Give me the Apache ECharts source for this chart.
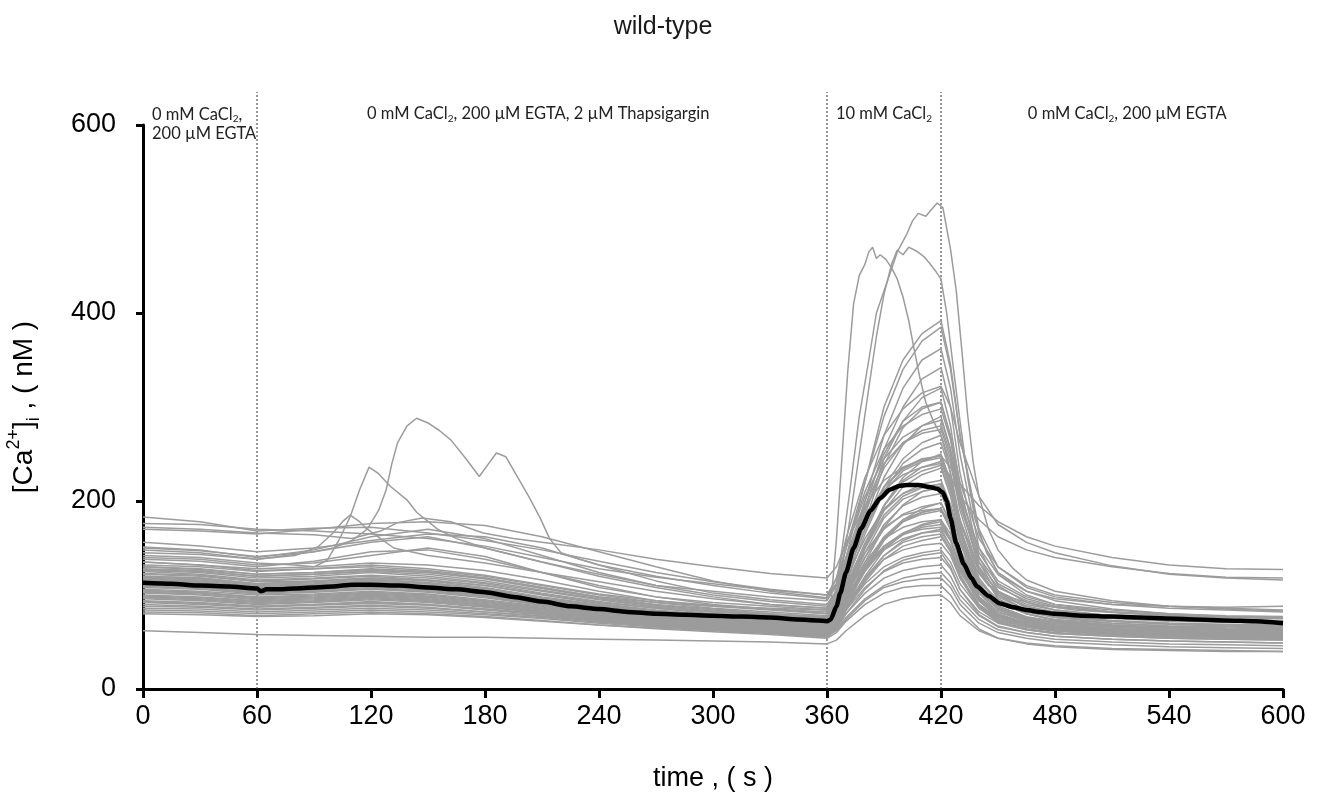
<!DOCTYPE html>
<html>
<head>
<meta charset="utf-8">
<script src="https://cdn.jsdelivr.net/npm/echarts@6/dist/echarts.min.js"></script>
<style>
html,body{margin:0;padding:0;background:#ffffff;}
#chart{width:1326px;height:801px;}
</style>
</head>
<body>
<div id="chart"></div>
<script>
// ---------------- DATA ----------------
// shared sampling times (s) for the individual cell traces
const TIME = [0,30,60,90,120,150,180,210,240,270,300,330,360,365,370,380,390,400,410,420,425,430,440,450,465,480,510,540,570,600];

// individual cells, [Ca2+]i in nM at TIME
const cell01 = [183,178,168,171,172,166,158,148,136,124,114,106,100,118,150,205,245,268,280,286,255,205,150,122,104,96,90,88,87,88];
const cell02 = [176,175,170,168,165,160,152,140,128,119,112,105,100,112,140,185,212,228,236,240,226,205,180,162,148,140,130,123,119,118];
const cell03 = [170,168,165,170,176,178,174,162,146,130,115,104,97,118,160,225,270,298,315,322,300,262,205,175,156,145,131,122,118,116];
const cell04 = [156,152,146,150,158,165,162,150,132,115,102,95,90,105,140,200,250,285,300,305,270,220,160,130,110,100,92,88,86,84];
const cell05 = [151,148,140,148,162,170,160,142,124,110,104,98,94,110,150,220,290,340,370,385,340,270,170,130,108,98,90,86,84,82];
const cell06 = [145,143,138,146,156,162,150,135,122,110,100,93,88,105,135,190,235,262,275,280,250,200,140,112,96,88,82,79,77,76];
const cell07 = [140,138,132,134,142,150,141,124,108,98,92,88,84,100,130,180,215,235,245,248,220,180,128,104,90,84,78,76,74,73];
const cell08 = [135,132,128,130,134,132,126,116,104,94,88,84,80,95,125,175,225,260,280,290,255,200,130,102,88,80,75,72,71,70];
const cell09 = [132,130,125,128,130,126,120,110,100,92,86,82,78,92,118,160,192,208,215,218,195,160,115,95,84,78,73,70,68,67];
const cell10 = [130,127,122,124,128,125,118,108,98,90,85,80,76,90,120,170,215,245,262,270,240,190,125,98,84,77,72,69,67,66];
const cell11 = [128,126,120,122,125,122,115,105,96,88,83,79,75,86,108,145,172,185,190,192,175,148,110,92,82,76,72,70,69,68];
const cell12 = [126,124,118,120,124,120,113,104,95,87,82,78,74,88,118,170,210,232,242,246,215,170,115,92,80,74,70,67,66,65];
const cell13 = [125,122,116,118,121,118,112,102,93,86,80,76,72,84,110,155,190,208,218,222,196,158,110,88,77,72,68,66,64,63];
const cell14 = [123,121,115,117,120,116,110,100,91,84,79,75,71,86,120,185,245,285,310,320,280,215,135,100,84,76,70,67,65,64];
const cell15 = [122,120,114,115,118,115,108,98,90,83,78,74,70,80,100,135,160,172,178,180,165,138,102,86,76,71,67,65,63,62];
const cell16 = [120,118,112,114,117,113,106,96,88,82,77,73,69,82,112,165,210,240,255,262,230,180,118,92,80,73,68,65,63,62];
const cell17 = [118,116,110,112,115,112,105,95,87,81,76,72,68,78,98,130,152,165,170,172,158,130,98,82,73,68,64,62,60,60];
const cell18 = [117,115,109,111,113,110,104,94,86,80,75,71,67,80,108,155,195,220,232,238,210,165,112,88,76,70,66,63,61,60];
const cell19 = [115,113,108,110,112,109,102,93,85,79,74,70,66,76,96,128,148,160,166,168,152,125,94,79,71,66,62,60,58,58];
const cell20 = [114,112,106,108,111,108,101,92,84,78,73,69,65,78,106,150,185,205,214,218,195,155,106,84,73,68,64,61,59,58];
const cell21 = [112,110,105,107,110,106,100,91,83,77,72,68,64,72,90,118,138,148,153,155,142,118,90,76,68,64,60,58,57,56];
const cell22 = [110,108,103,105,108,105,98,90,82,76,72,68,64,76,104,150,190,215,228,235,205,160,108,85,74,68,64,62,60,60];
const cell23 = [108,106,101,103,106,103,97,89,81,75,71,67,63,72,92,125,150,164,172,175,158,128,95,80,70,65,61,59,58,57];
const cell24 = [106,104,100,101,104,101,95,88,80,74,70,66,62,70,86,112,130,140,145,148,135,112,86,73,66,62,58,56,55,54];
const cell25 = [105,103,98,100,103,100,94,87,80,74,70,66,62,74,100,145,182,202,210,214,188,148,102,82,72,67,63,61,60,59];
const cell26 = [103,101,96,98,101,98,92,85,78,72,68,64,60,68,84,108,125,134,138,140,128,106,82,70,63,59,56,54,53,52];
const cell27 = [100,98,94,96,99,96,90,84,77,72,68,64,60,72,98,140,175,195,204,208,182,142,98,79,70,65,61,59,58,57];
const cell28 = [98,96,92,94,97,94,88,82,76,70,66,62,58,65,80,102,118,126,130,132,120,100,78,66,60,56,53,51,50,49];
const cell29 = [96,94,90,92,95,92,87,81,75,70,66,62,58,70,94,132,162,180,188,192,170,134,94,76,67,62,58,56,55,54];
const cell30 = [94,92,88,90,93,90,85,80,74,69,65,61,57,63,76,96,110,118,122,124,113,95,74,63,57,53,50,48,47,46];
const cell31 = [92,90,87,89,91,89,84,79,73,68,64,60,56,68,92,135,172,196,210,216,188,145,98,78,68,63,60,58,57,56];
const cell32 = [90,88,85,87,89,87,82,78,72,67,63,60,56,62,74,94,108,114,117,118,108,90,70,60,54,50,47,45,44,43];
const cell33 = [88,87,84,86,88,86,82,77,72,68,65,62,58,67,86,118,142,156,162,165,148,120,88,74,66,62,59,57,56,55];
const cell34 = [86,85,82,84,86,84,80,76,71,67,64,61,57,64,80,106,126,137,142,145,130,106,79,67,60,56,53,51,50,49];
const cell35 = [84,83,80,82,84,82,79,75,70,66,63,60,56,66,88,126,158,178,188,192,170,135,94,76,67,62,59,57,56,55];
const cell36 = [82,81,78,80,82,80,77,73,68,64,61,58,54,60,72,90,102,108,110,110,100,84,64,54,48,45,42,41,40,40];
const cell37 = [80,79,77,78,80,79,76,72,68,65,62,59,55,64,84,116,142,158,166,170,152,122,88,72,64,60,57,55,54,53];
const cell38 = [62,60,58,57,56,55,55,54,53,52,51,50,48,52,62,78,90,96,99,100,92,78,62,54,49,46,43,42,41,40];
const cell39 = [138,136,130,136,146,148,138,124,110,98,90,85,80,98,140,220,300,350,378,392,345,270,165,122,100,90,82,78,76,75];
const cell40 = [127,125,120,122,126,124,117,107,97,89,84,80,76,92,128,200,270,320,350,362,320,250,150,110,92,84,78,75,73,72];
const cell41 = [116,114,108,110,114,112,105,96,88,82,77,73,69,85,122,192,255,300,330,342,300,230,140,104,86,78,72,69,67,66];
const cell42 = [109,107,102,104,107,104,98,90,82,76,72,68,64,78,112,178,238,278,298,305,268,205,128,96,80,73,68,65,63,62];
const cell43 = [102,100,95,97,100,97,91,85,78,72,68,65,61,72,100,150,195,225,242,250,220,172,112,86,74,68,64,62,61,60];
const cell44 = [97,95,91,93,96,93,88,82,76,71,67,63,59,68,90,128,160,180,192,198,176,140,98,79,70,65,62,60,59,58];
const cell45 = [93,91,88,90,92,90,85,80,74,69,66,62,58,66,86,120,148,165,175,180,160,128,90,74,66,62,59,57,56,55];
const cell46 = [119,117,111,113,116,113,107,97,89,83,78,74,70,80,102,140,170,186,194,198,178,145,104,85,75,70,66,64,63,62];
const cell47 = [111,109,104,106,109,106,99,91,83,77,73,69,65,74,94,126,152,166,174,178,160,130,95,79,70,66,62,60,59,58];
const cell48 = [104,102,97,99,102,99,93,86,79,73,69,65,61,70,92,130,160,178,186,190,170,136,96,78,69,64,61,59,58,57];
const cell49 = [99,97,93,95,98,95,89,83,77,71,67,63,59,66,84,114,138,152,158,162,146,118,86,71,63,59,56,54,53,52];
const cell50 = [113,111,106,108,112,110,103,94,86,80,75,71,67,79,105,152,195,222,236,242,214,168,112,88,76,70,66,64,62,61];

// cells with their own sampling ([time s, nM])
const spikeHigh = [[0,130],[30,128],[60,122],[90,124],[120,127],[150,124],[180,118],[210,108],[240,98],[270,92],[300,88],[330,86],[360,84],[364,100],[368,150],[372,210],[377,290],[382,350],[386,400],[392,435],[397,465],[402,484],[405,498],[408,506],[412,503],[415,510],[418,517],[421,512],[425,468],[428,424],[431,360],[434,292],[437,240],[440,205],[445,170],[450,148],[458,128],[465,116],[480,104],[510,94],[540,88],[570,85],[600,83]];
const spikeFlat = [[0,120],[30,118],[60,112],[90,115],[120,118],[150,116],[180,110],[210,101],[240,92],[270,86],[300,82],[330,79],[360,77],[364,92],[368,130],[372,180],[377,250],[382,320],[386,375],[390,420],[394,452],[397,467],[400,462],[403,470],[407,466],[411,460],[414,453],[417,445],[420,436],[423,400],[426,350],[430,285],[434,225],[438,180],[444,145],[450,124],[465,104],[480,94],[510,85],[540,80],[570,77],[600,76]];
const spikeEarly = [[0,135],[30,132],[60,126],[90,128],[120,132],[150,128],[180,121],[210,111],[240,101],[270,94],[300,89],[330,85],[360,82],[362,90],[365,160],[368,250],[371,340],[374,410],[377,440],[380,452],[382,465],[384,470],[386,458],[388,462],[391,457],[394,448],[397,436],[400,417],[403,392],[406,360],[409,330],[412,305],[416,285],[420,270],[424,240],[428,195],[432,160],[438,128],[445,110],[455,98],[470,90],[490,84],[520,80],[560,77],[600,75]];
const tgPeak1 = [[0,142],[30,140],[60,134],[80,132],[90,130],[97,137],[103,158],[109,183],[114,212],[119,236],[124,229],[130,216],[139,201],[144,188],[155,170],[165,160],[180,150],[200,140],[220,130],[240,120],[270,108],[300,98],[330,90],[360,86],[365,102],[370,135],[380,195],[390,240],[400,262],[410,272],[420,276],[425,245],[430,195],[440,135],[450,108],[465,94],[480,87],[510,82],[540,79],[570,77],[600,76]];
const tgPeak2 = [[0,150],[30,147],[60,141],[90,146],[100,150],[110,158],[118,170],[124,190],[128,212],[131,240],[134,262],[139,280],[144,288],[150,283],[156,275],[162,265],[170,245],[177,226],[182,240],[186,251],[191,247],[197,226],[203,205],[209,182],[214,160],[220,145],[230,138],[240,132],[270,120],[300,110],[330,102],[360,96],[365,112],[370,150],[380,210],[390,255],[400,280],[410,292],[420,298],[425,265],[430,210],[440,145],[450,115],[465,98],[480,90],[510,84],[540,80],[570,78],[600,77]];
const tgPeak3 = [[0,148],[30,145],[60,138],[80,142],[92,151],[100,166],[105,178],[109,185],[114,178],[118,170],[125,160],[132,150],[150,142],[180,134],[210,124],[240,114],[270,104],[300,96],[330,90],[360,86],[365,98],[370,128],[380,178],[390,215],[400,234],[410,244],[420,248],[425,222],[430,178],[440,124],[450,100],[465,88],[480,82],[510,77],[540,74],[570,72],[600,71]];
const tgPlateau = [[0,172],[30,170],[60,166],[90,164],[110,160],[125,168],[134,177],[147,182],[162,178],[179,166],[195,160],[214,155],[240,148],[270,138],[300,130],[330,123],[360,118],[365,130],[370,155],[380,195],[390,222],[400,236],[410,244],[420,248],[425,236],[430,218],[440,195],[450,178],[465,162],[480,152],[510,140],[540,132],[570,128],[600,127]];

// mean trace
const MEAN_T = [0,15,30,45,60,62,65,70,80,90,100,110,120,135,150,165,180,195,210,225,240,255,270,285,300,315,330,345,355,360,362,365,367,370,374,378,383,388,393,398,402,408,414,418,421,423,425,428,432,436,439,445,451,458,465,472,480,495,510,525,540,555,570,585,600];
const MEAN_V = [113,112,110,109,107,104,106,106,107,108,109,111,111,110,108,106,103,98,93,88,85,82,80,79,78,77,76,74,73,72,74,88,102,124,150,171,190,203,212,216,217,217,215,213,209,200,182,155,133,118,109,99,91,87,84,82,80,78,77,76,75,74,73,72,70];

// solution changes (s) and labels
const PHASE_CHANGES = [60, 360, 420];
const PHASE_LABELS = [
  {at: 0,   text: '0 mM CaCl{s|2},\n200 µM EGTA', align: 'left'},
  {at: 208, text: '0 mM CaCl{s|2}, 200 µM EGTA, 2 µM Thapsigargin', align: 'center'},
  {at: 390, text: '10 mM CaCl{s|2}', align: 'center'},
  {at: 518, text: '0 mM CaCl{s|2}, 200 µM EGTA', align: 'center'}
];

// ---------------- CHART ----------------
const FONT = '"Liberation Sans", Arial, sans-serif';
const NOTE_FONT = 'Lato, "Open Sans", sans-serif';
const GRAY = '#9c9c9c';

const gridCells = [cell01,cell02,cell03,cell04,cell05,cell06,cell07,cell08,cell09,cell10,
  cell11,cell12,cell13,cell14,cell15,cell16,cell17,cell18,cell19,cell20,
  cell21,cell22,cell23,cell24,cell25,cell26,cell27,cell28,cell29,cell30,
  cell31,cell32,cell33,cell34,cell35,cell36,cell37,cell38,cell39,cell40,
  cell41,cell42,cell43,cell44,cell45,cell46,cell47,cell48,cell49,cell50];
const pairCells = [spikeHigh, spikeFlat, spikeEarly, tgPeak1, tgPeak2, tgPeak3, tgPlateau];

const series = [];
function graySeries(data) {
  return {type: 'line', data: data, symbol: 'none', silent: true, z: 2,
    lineStyle: {color: GRAY, width: 1.5}};
}
gridCells.forEach(function (vals) {
  series.push(graySeries(TIME.map(function (t, i) { return [t, vals[i]]; })));
});
pairCells.forEach(function (d) { series.push(graySeries(d)); });
series.push({type: 'line', data: MEAN_T.map(function (t, i) { return [t, MEAN_V[i]]; }),
  symbol: 'none', silent: true, z: 5, smooth: 0.2, smoothMonotone: 'x',
  lineStyle: {color: '#000000', width: 4.5}});

const chart = echarts.init(document.getElementById('chart'), null, {renderer: 'canvas'});
const option = {
  animation: false,
  backgroundColor: '#ffffff',
  textStyle: {fontFamily: FONT},
  title: {
    text: 'wild-type', left: 'center', top: 10,
    textStyle: {fontFamily: FONT, fontSize: 25, fontWeight: 'normal', color: '#1a1a1a'}
  },
  grid: {left: 143, right: 43, top: 125, bottom: 112, containLabel: false, outerBoundsMode: 'none'},
  xAxis: {
    type: 'value', min: 0, max: 600, interval: 60,
    name: 'time , ( s )', nameLocation: 'middle', nameGap: 76,
    nameTextStyle: {fontFamily: FONT, fontSize: 27, color: '#000'},
    axisLine: {onZero: false, lineStyle: {color: '#000', width: 3}},
    axisTick: {show: true, inside: false, length: 9, lineStyle: {color: '#000', width: 3}},
    axisLabel: {fontFamily: FONT, fontSize: 27, color: '#000', margin: 14, showMinLabel: true, showMaxLabel: true},
    splitLine: {show: false}
  },
  yAxis: {
    type: 'value', min: 0, max: 600, interval: 200,
    name: '[Ca{sup|2+}]{sub|i} , ( nM )', nameLocation: 'middle', nameRotate: 90, nameGap: 100,
    nameTextStyle: {fontFamily: FONT, fontSize: 28, color: '#000', lineHeight: 38,
      rich: {
        sup: {fontFamily: FONT, fontSize: 18, lineHeight: 18, verticalAlign: 'top', color: '#000'},
        sub: {fontFamily: FONT, fontSize: 18, lineHeight: 18, verticalAlign: 'bottom', color: '#000'}
      }},
    axisLine: {onZero: false, lineStyle: {color: '#000', width: 3}},
    axisTick: {show: true, inside: false, length: 7, lineStyle: {color: '#000', width: 3}},
    axisLabel: {fontFamily: FONT, fontSize: 27, color: '#000', margin: 27, showMinLabel: true, showMaxLabel: true},
    splitLine: {show: false}
  },
  series: series
};
chart.setOption(option);

// reference lines and solution labels placed through the axes' scales
const px = function (t) { return chart.convertToPixel({xAxisIndex: 0}, t); };
const py = function (v) { return chart.convertToPixel({yAxisIndex: 0}, v); };
const yTop = py(600);
const yBottom = py(0);
const graphics = [];
PHASE_CHANGES.forEach(function (t) {
  graphics.push({type: 'line', silent: true, z: 1,
    shape: {x1: px(t), y1: yBottom, x2: px(t), y2: yTop - 33},
    style: {stroke: '#333333', lineWidth: 1, lineDash: [2, 2]}});
});
PHASE_LABELS.forEach(function (l) {
  const left = l.align === 'left';
  graphics.push({type: 'text', silent: true, z: 10,
    x: left ? px(l.at) + 9 : px(l.at),
    y: left ? yTop - 20 : yTop - 11,
    style: {
      text: l.text, fill: '#222222', fontFamily: NOTE_FONT, fontSize: 16.5, lineHeight: 19,
      align: l.align, verticalAlign: left ? 'top' : 'middle',
      rich: {s: {fill: '#222222', fontFamily: NOTE_FONT, fontSize: 10, lineHeight: 10, verticalAlign: 'bottom'}}
    }});
});
chart.setOption({graphic: graphics});
</script>
</body>
</html>
